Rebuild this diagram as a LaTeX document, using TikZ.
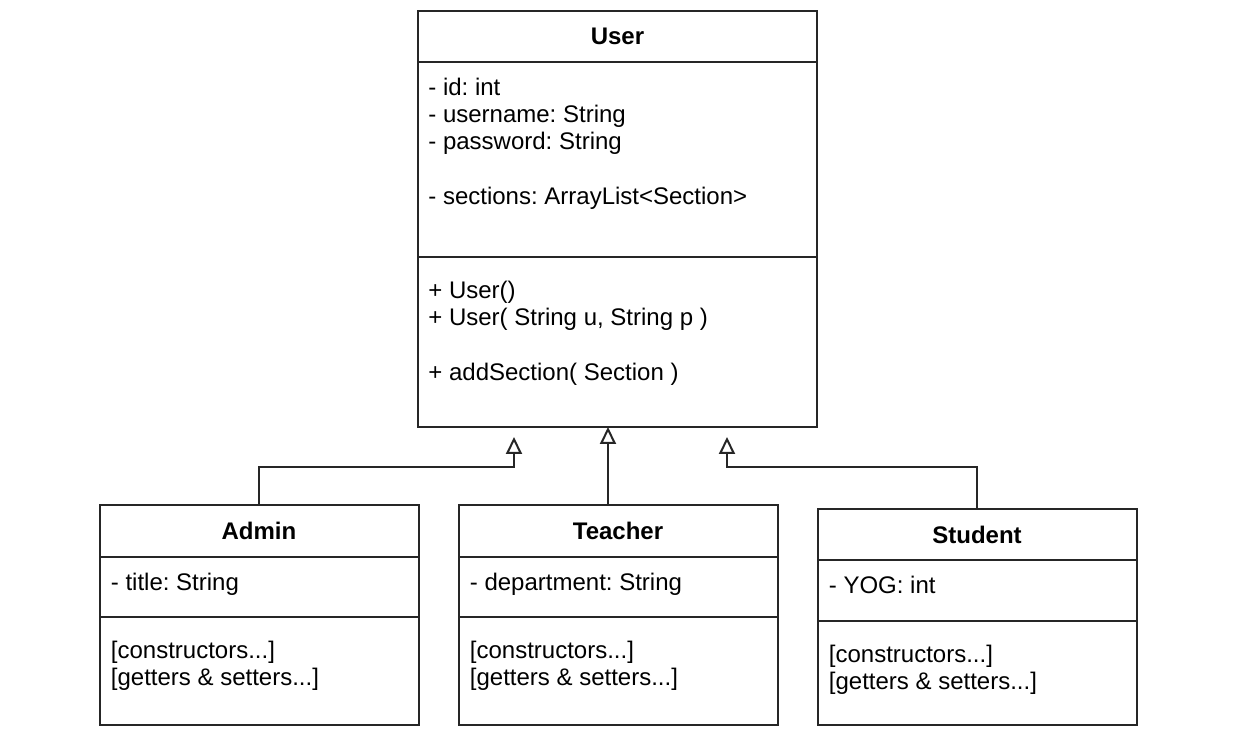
\documentclass[tikz,border=0pt]{standalone}
\usepackage{fontspec}
\setmainfont{Liberation Sans}
\frenchspacing
\usetikzlibrary{positioning,arrows.meta}
\tikzset{
  part/.style      = {shape=rectangle, draw=black!85, line width=1pt,
                      inner sep=0pt, outer sep=0pt},
  classname/.style = {part, font=\fontsize{12}{13.5}\selectfont\bfseries},
  wide/.style      = {minimum width=199.5pt},
  narrow/.style    = {minimum width=159.5pt},
  members/.style   = {anchor=north west, align=left, inner sep=0pt},
  inherit/.style   = {draw=black!85, line width=1pt,
                      -{Triangle[open, length=8.5pt, width=8pt]}}
}

\begin{document}
\begin{tikzpicture}
  [
    x                 = 0.5pt,
    y                 = -0.5pt,
    every node/.style = {font=\fontsize{12}{13.5}\selectfont}
  ]
  \useasboundingbox (0,0) rectangle (1243,742);

  % User
  \node [classname, wide, minimum height=25.5pt] (user) at (617.5,36.5) {User};
  \node [part, wide, minimum height=97.5pt, below=0pt of user] (userattr) {};
  \node [part, wide, minimum height=85pt, below=0pt of userattr] (userops) {};
  \node [members, below right=8pt and 5pt of userattr.north west] (userattrtext)
    {- id: int\\- username: String\\- password: String\\[14pt]- sections: ArrayList<Section>};
  \node [members, below right=12pt and 5pt of userops.north west] (useropstext)
    {+ User()\\+ User( String u, String p )\\[14pt]+ addSection( Section )};

  % Admin
  \node [classname, narrow, minimum height=26pt] (admin) at (259,531) {Admin};
  \node [part, narrow, minimum height=30pt, below=0pt of admin] (adminattr) {};
  \node [part, narrow, minimum height=54pt, below=0pt of adminattr] (adminops) {};
  \node [members, below right=8pt and 5.5pt of adminattr.north west] (adminattrtext)
    {- title: String};
  \node [members, below right=12pt and 5.5pt of adminops.north west] (adminopstext)
    {[constructors...]\\{}[getters \& setters...]};

  % Teacher
  \node [classname, narrow, minimum height=26pt, right=20pt of admin] (teacher) {Teacher};
  \node [part, narrow, minimum height=30pt, below=0pt of teacher] (teacherattr) {};
  \node [part, narrow, minimum height=54pt, below=0pt of teacherattr] (teacherops) {};
  \node [members, below right=8pt and 5.5pt of teacherattr.north west] (teacherattrtext)
    {- department: String};
  \node [members, below right=12pt and 5.5pt of teacherops.north west] (teacheropstext)
    {[constructors...]\\{}[getters \& setters...]};

  % Student
  \node [classname, narrow, minimum height=25.5pt, right=20pt of teacher, yshift=-1.75pt] (student) {Student};
  \node [part, narrow, minimum height=30.5pt, below=0pt of student] (studentattr) {};
  \node [part, narrow, minimum height=52pt, below=0pt of studentattr] (studentops) {};
  \node [members, below right=8pt and 5.5pt of studentattr.north west] (studentattrtext)
    {- YOG: int};
  \node [members, below right=12pt and 5.5pt of studentops.north west] (studentopstext)
    {[constructors...]\\{}[getters \& setters...]};

  % generalisation arrows
  \coordinate (adminhead)   at (514,437);
  \coordinate (teacherhead) at (608,427);
  \coordinate (studenthead) at (727,437);
  \draw [inherit] (admin.north) -- ++(0,-38) -| (adminhead);
  \draw [inherit] (teacherhead |- teacher.north) -- (teacherhead);
  \draw [inherit] (student.north) -- ++(0,-42) -| (studenthead);
\end{tikzpicture}
\end{document}
